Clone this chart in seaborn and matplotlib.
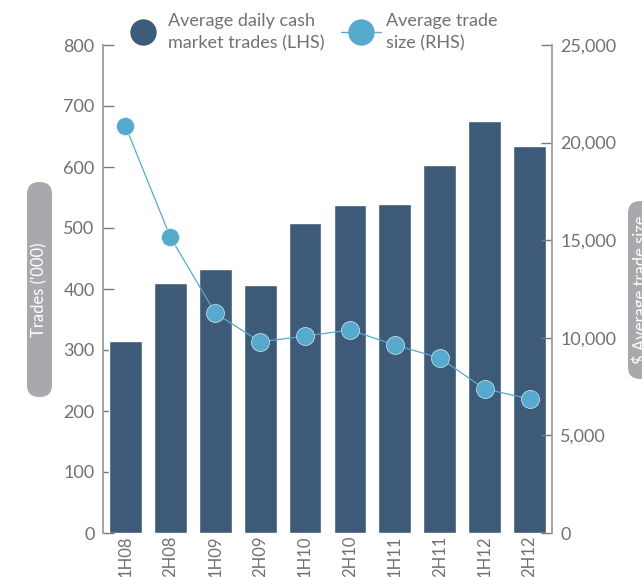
import numpy as np
import pandas as pd
import matplotlib
matplotlib.use("Agg")
from matplotlib import pyplot as plt
from matplotlib.lines import Line2D
from matplotlib.patches import FancyBboxPatch
import seaborn as sns

# Half-year periods
periods = ["1H08", "2H08", "1H09", "2H09", "1H10", "2H10", "1H11", "2H11", "1H12", "2H12"]

# Average daily cash market trades ('000), left axis
dailyTrades = [315, 410, 433, 407, 508, 538, 539, 603, 675, 634]

# Average trade size ($), right axis
tradeSize = [20850, 15160, 11270, 9790, 10090, 10400, 9630, 8970, 7380, 6870]

leftTicks = [0, 100, 200, 300, 400, 500, 600, 700, 800]
rightTicks = [0, 5000, 10000, 15000, 20000, 25000]

barColor = "#3d5a78"
lineColor = "#55aacd"
textColor = "#707174"
spineColor = "#9d9d9d"
boxColor = "#a7a9ac"

sns.set_theme(style="white")
plt.rcParams["font.family"] = ["Lato", "DejaVu Sans"]

df = pd.DataFrame({"period": periods, "trades": dailyTrades, "size": tradeSize})

W, H = 642, 577
fig = plt.figure(figsize=(W / 100, H / 100), dpi=100)
ax = fig.add_axes([103 / W, 1 - 533 / H, (552 - 103) / W, (533 - 45) / H])

# Bars on the left axis
sns.barplot(data=df, x="period", y="trades", color=barColor, saturation=1, width=0.73, ax=ax)
ax.set_xlim(-0.5, len(periods) - 0.5)
ax.set_ylim(0, 800)
ax.set_yticks(leftTicks)
ax.set_xlabel("")
ax.set_ylabel("")

# Line on the right axis
ax2 = ax.twinx()
sns.lineplot(x=np.arange(len(periods)), y=df["size"], ax=ax2, color=lineColor, linewidth=0.9,
             marker="o", markersize=13, markeredgecolor="white", markeredgewidth=0.4)
ax2.set_ylim(0, 25000)
ax2.set_yticks(rightTicks)
ax2.set_yticklabels([f"{v:,}" for v in rightTicks])
ax2.set_ylabel("")

# Spines and ticks
for a in (ax, ax2):
    for s in a.spines.values():
        s.set_visible(False)
ax.spines["left"].set_visible(True)
ax.spines["left"].set_color(spineColor)
ax.spines["left"].set_linewidth(1.3)
ax2.spines["right"].set_visible(True)
ax2.spines["right"].set_color(spineColor)
ax2.spines["right"].set_linewidth(1.3)

ax.tick_params(axis="y", direction="in", length=8, width=1, color="#7a7a7a",
               labelcolor=textColor, labelsize=13, pad=6, left=True)
ax2.tick_params(axis="y", direction="in", length=8, width=1, color="#7a7a7a",
                labelcolor=textColor, labelsize=13, pad=6, right=True)
ax.tick_params(axis="x", length=0, labelcolor=textColor, labelsize=12, pad=2, labelrotation=90)

# Rounded axis titles (pill boxes in pixel positions)
def pill(x0, y0, x1, y1, label):
    box = FancyBboxPatch((x0 / W, 1 - y1 / H), (x1 - x0) / W, (y1 - y0) / H,
                         boxstyle="round,pad=0,rounding_size=0.019",
                         transform=fig.transFigure, fc=boxColor, ec="none",
                         mutation_aspect=W / H)
    fig.add_artist(box)
    fig.text((x0 + x1) / 2 / W, 1 - (y0 + y1) / 2 / H, label, rotation=90,
             ha="center", va="center", color="white", fontsize=12)

pill(27, 182, 52, 397, "Trades ('000)")
pill(628, 201, 653, 379, "$ Average trade size")

# Legend
handles = [
    Line2D([], [], marker="o", linestyle="none", markersize=18, color=barColor),
    Line2D([], [], marker="o", linewidth=1, markersize=18, color=lineColor),
]
labels = ["Average daily cash\nmarket trades (LHS)", "Average trade\nsize (RHS)"]
leg = fig.legend(handles, labels, loc="upper left", bbox_to_anchor=(114 / W, 1 - 4 / H), ncol=2,
                 frameon=False, fontsize=13, labelcolor=textColor, handlelength=2.2,
                 handletextpad=0.3, columnspacing=0.9, borderaxespad=0.1)
for t in leg.get_texts():
    t.set_linespacing(1.45)

fig.savefig("out.png", dpi=100)
